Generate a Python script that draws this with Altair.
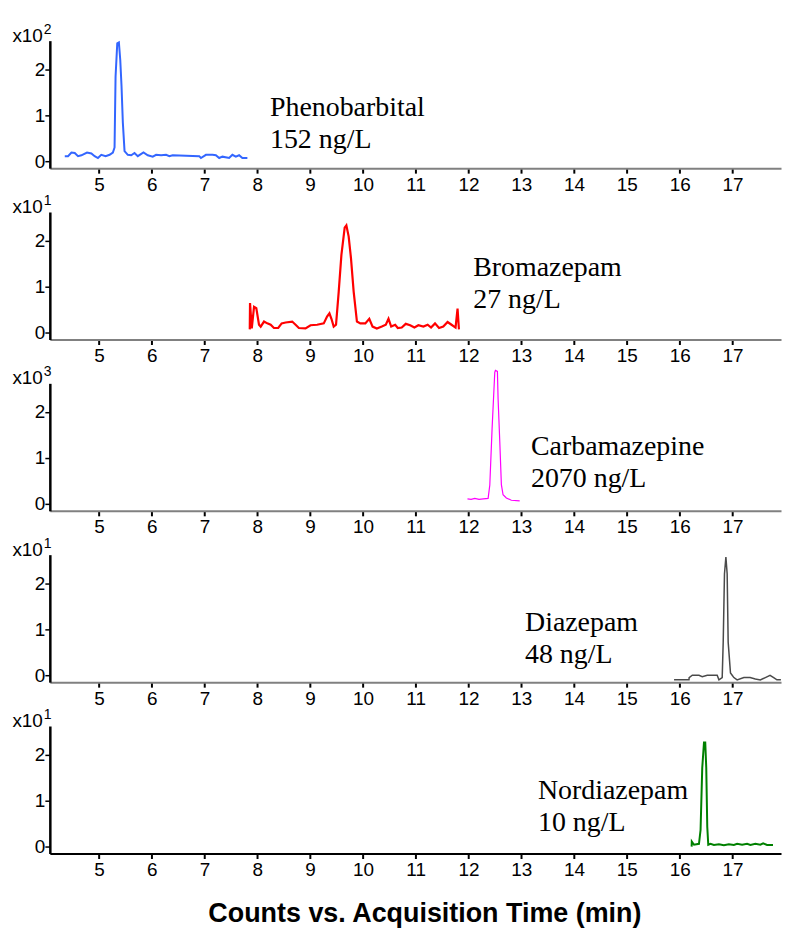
import altair as alt
import pandas as pd

# ---------------- data ----------------
x_ticks = [5, 6, 7, 8, 9, 10, 11, 12, 13, 14, 15, 16, 17]
y_ticks = [0, 1, 2]

compounds = ["Phenobarbital", "Bromazepam", "Carbamazepine", "Diazepam", "Nordiazepam"]
concentrations = ["152 ng/L", "27 ng/L", "2070 ng/L", "48 ng/L", "10 ng/L"]
exponents = ["2", "1", "3", "1", "1"]

p1_time = [4.353, 4.415, 4.479, 4.542, 4.604, 4.668, 4.774, 4.857, 4.919, 4.981, 5.045, 5.127,
           5.202, 5.264, 5.296, 5.315, 5.347, 5.378, 5.404, 5.428, 5.453, 5.485, 5.547, 5.612,
           5.674, 5.736, 5.844, 5.925, 6.019, 6.083, 6.178, 6.272, 6.334, 6.396, 6.9, 6.932,
           7.027, 7.151, 7.215, 7.278, 7.34, 7.466, 7.528, 7.593, 7.655, 7.717, 7.812]
p1_value = [0.11, 0.11, 0.19, 0.18, 0.11, 0.13, 0.19, 0.17, 0.11, 0.07, 0.14, 0.11,
            0.14, 0.19, 0.30, 1.84, 2.56, 2.58, 2.20, 1.63, 0.84, 0.22, 0.14, 0.13,
            0.18, 0.11, 0.19, 0.13, 0.10, 0.14, 0.13, 0.14, 0.11, 0.13, 0.11, 0.07,
            0.14, 0.14, 0.13, 0.07, 0.10, 0.07, 0.14, 0.10, 0.13, 0.07, 0.07]

p2_time = [7.857, 7.862, 7.895, 7.938, 7.981, 8.032, 8.064, 8.127, 8.189, 8.253, 8.315, 8.396,
           8.461, 8.536, 8.661, 8.725, 8.787, 8.913, 9.008, 9.132, 9.259, 9.321, 9.366, 9.404,
           9.447, 9.491, 9.542, 9.593, 9.655, 9.687, 9.73, 9.774, 9.825, 9.887, 9.951, 10.046,
           10.121, 10.183, 10.264, 10.359, 10.434, 10.485, 10.536, 10.612, 10.661, 10.736,
           10.812, 10.895, 10.976, 11.051, 11.146, 11.227, 11.291, 11.366, 11.442, 11.523,
           11.604, 11.679, 11.755, 11.793, 11.819]
p2_value = [0.07, 0.64, 0.09, 0.56, 0.53, 0.17, 0.13, 0.24, 0.20, 0.17, 0.10, 0.10,
            0.20, 0.22, 0.24, 0.17, 0.10, 0.09, 0.16, 0.17, 0.20, 0.35, 0.42, 0.30,
            0.13, 0.17, 0.89, 1.69, 2.28, 2.33, 2.09, 1.62, 0.89, 0.24, 0.20, 0.20,
            0.30, 0.13, 0.09, 0.13, 0.17, 0.30, 0.13, 0.17, 0.10, 0.11,
            0.19, 0.16, 0.11, 0.16, 0.13, 0.17, 0.11, 0.20, 0.10, 0.13,
            0.23, 0.17, 0.11, 0.52, 0.07]

p3_time = [11.981, 12.05, 12.12, 12.2, 12.28, 12.372, 12.404, 12.447, 12.498, 12.51, 12.548,
           12.561, 12.593, 12.623, 12.655, 12.717, 12.812, 12.97]
p3_value = [0.11, 0.10, 0.12, 0.10, 0.11, 0.12, 0.41, 1.63, 2.86, 2.90, 2.88,
            2.28, 1.35, 0.42, 0.20, 0.13, 0.08, 0.065]

p4_time = [15.894, 16.177, 16.18, 16.24, 16.296, 16.366, 16.428, 16.523, 16.711, 16.744, 16.806,
           16.825, 16.849, 16.876, 16.9, 16.919, 16.963, 16.995, 17.027, 17.089, 17.216, 17.334,
           17.434, 17.529, 17.623, 17.712, 17.781, 17.843, 17.918]
p4_value = [-0.10, -0.10, -0.05, 0.00, 0.00, 0.00, -0.03, 0.00, 0.00, -0.10, -0.05,
            0.72, 2.20, 2.57, 2.20, 0.72, 0.05, 0.00, -0.05, -0.10, -0.05, -0.05,
            -0.08, -0.10, -0.05, 0.00, -0.05, -0.10, -0.10]

p5_time = [16.227, 16.23, 16.272, 16.366, 16.396, 16.428, 16.461, 16.485, 16.504, 16.523, 16.542,
           16.585, 16.649, 16.744, 16.838, 16.932, 17.027, 17.089, 17.183, 17.278, 17.34, 17.434,
           17.529, 17.581, 17.655, 17.768]
p5_value = [0.00, 0.11, 0.04, 0.06, 0.36, 1.71, 2.26, 2.26, 1.71, 0.43, 0.04,
            0.06, 0.035, 0.05, 0.03, 0.05, 0.035, 0.06, 0.04, 0.06, 0.035, 0.06,
            0.04, 0.07, 0.035, 0.035]

series = [(p1_time, p1_value), (p2_time, p2_value), (p3_time, p3_value),
          (p4_time, p4_value), (p5_time, p5_value)]

# ---------------- styling / layout ----------------
X_DOMAIN = [4.07, 17.92]
Y_DOMAIN = [-0.15, 2.62]
PANEL_W = 734
PANEL_H = 128
colors = ["#3366FF", "#FF0000", "#FF00FF", "#4A4A4A", "#008000"]
stroke_widths = [2, 2.2, 1.2, 1.5, 2]
xaxis_colors = ["#808080", "#808080", "#808080", "#808080", "#000000"]
label_xy = [(221, 76), (425, 64), (483, 72), (477, 77), (490, 73)]
SANS = "Liberation Sans"
SERIF = "Liberation Serif"


def make_panel(i):
    t, v = series[i]
    df = pd.DataFrame({"time": t, "value": v, "order": list(range(len(t)))})
    last = i == len(series) - 1
    axis_kwargs = dict(
        values=x_ticks, labelFont=SANS, labelFontSize=19, labelColor="black",
        labelPadding=2, tickSize=5, tickWidth=2, tickColor="black",
        domainColor=xaxis_colors[i], domainWidth=2, grid=False,
        labelOverlap=False, labelFlush=False,
    )
    if last:
        axis_kwargs.update(
            title="Counts vs. Acquisition Time (min)", titleFont=SANS,
            titleFontWeight="bold", titleFontSize=27, titleColor="black",
            titleX=376, titleY=68, titleAlign="center", titleBaseline="alphabetic",
        )
    x_axis = alt.Axis(**axis_kwargs)
    y_axis = alt.Axis(
        values=y_ticks, labelFont=SANS, labelFontSize=19, labelColor="black",
        labelPadding=0, tickSize=5, tickWidth=1.5, tickColor="black",
        domainColor="black", domainWidth=2.5, grid=False, format="d",
    )
    line = alt.Chart(df).mark_line(color=colors[i], strokeWidth=stroke_widths[i]).encode(
        x=alt.X("time:Q", scale=alt.Scale(domain=X_DOMAIN, nice=False, zero=False),
                axis=x_axis, title=("Counts vs. Acquisition Time (min)" if last else None)),
        y=alt.Y("value:Q", scale=alt.Scale(domain=Y_DOMAIN, nice=False, zero=False),
                axis=y_axis, title=None),
        order="order:Q",
    )
    lx, ly = label_xy[i]
    label = alt.Chart(pd.DataFrame({"txt": [compounds[i] + "\n" + concentrations[i]]})).mark_text(
        align="left", baseline="alphabetic", font=SERIF, fontSize=28,
        lineBreak="\n", lineHeight=32, color="black",
    ).encode(x=alt.value(lx), y=alt.value(ly), text="txt:N")
    mult = alt.Chart(pd.DataFrame({"txt": ["x10"]})).mark_text(
        align="right", baseline="alphabetic", font=SANS, fontSize=19, color="black",
    ).encode(x=alt.value(-7), y=alt.value(1), text="txt:N")
    sup = alt.Chart(pd.DataFrame({"txt": [exponents[i]]})).mark_text(
        align="left", baseline="alphabetic", font=SANS, fontSize=14, color="black",
    ).encode(x=alt.value(-6), y=alt.value(-7), text="txt:N")
    return alt.layer(line, label, mult, sup).properties(width=PANEL_W, height=PANEL_H)


chart = alt.vconcat(*[make_panel(i) for i in range(5)], spacing=44, bounds="flush").properties(
    padding={"left": 4, "top": 13, "right": 0, "bottom": 0}
).configure(background="white").configure_view(stroke=None)

chart.save("out.html", embed_options={"renderer": "svg", "actions": False})
